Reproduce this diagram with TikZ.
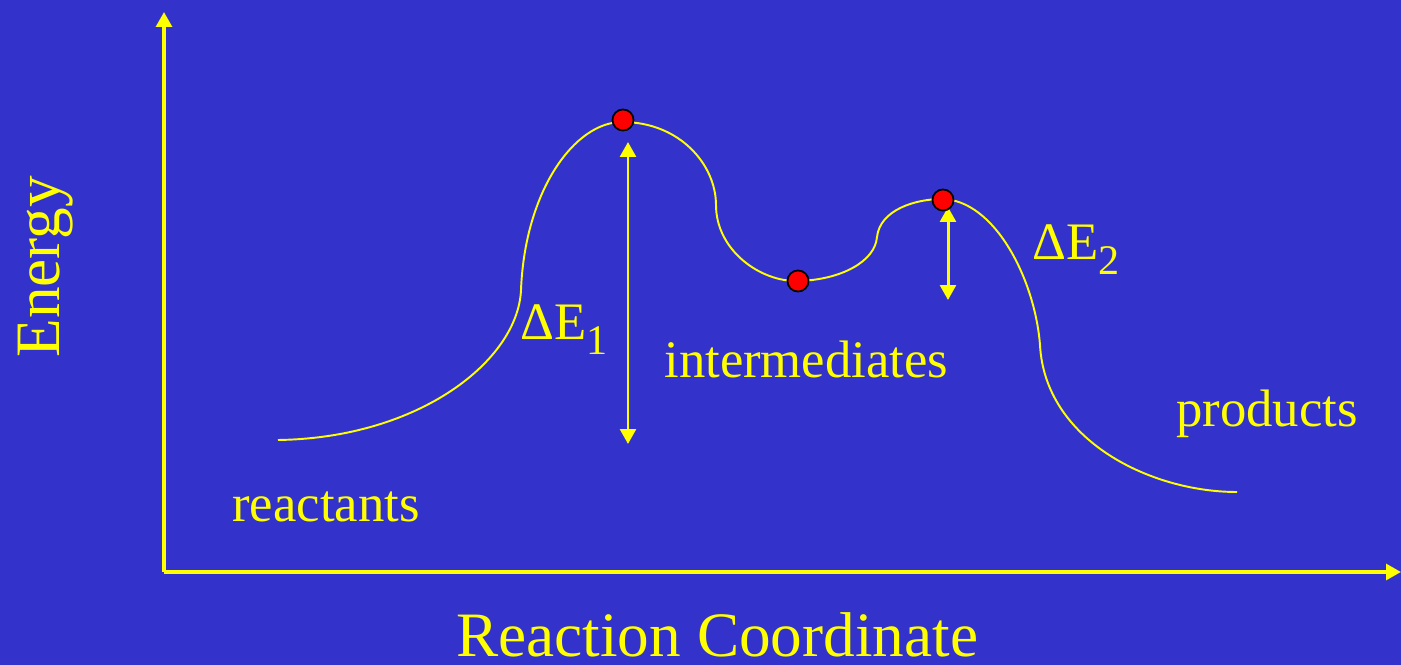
\documentclass[tikz,border=0pt]{standalone}
\usepackage{fontspec}
\setmainfont{Liberation Serif}
\usetikzlibrary{arrows.meta}
\definecolor{bg}{HTML}{3333CC}
\definecolor{yel}{HTML}{FFFF00}
\newcommand{\bigtxt}{\fontsize{36}{40}\selectfont}
\newcommand{\midtxt}{\fontsize{30}{34}\selectfont}
\newcommand{\subtxt}[1]{\raisebox{-8.5pt}{\fontsize{24}{24}\selectfont #1}}
\begin{document}
\begin{tikzpicture}[x=0.02cm,y=-0.02cm,
  axis/.style={draw=yel,line width=1.9pt,-{Triangle[length=8.5pt,width=9pt]}},
  curve/.style={draw=yel,line width=1.1pt},
  dbl/.style={draw=yel,line width=1.7pt,{Triangle[length=8.5pt,width=9pt]}-{Triangle[length=8.5pt,width=9pt]}},
  dot/.style={circle,fill=red,draw=black,line width=1pt,minimum size=12pt,inner sep=0pt},
  lbl/.style={text=yel,anchor=base west,inner sep=0pt}]
\fill[bg] (0,0) rectangle (1401,665);
\useasboundingbox (0,0) rectangle (1401,665);
% axes
\coordinate (O) at (164,572);
\coordinate (ytop) at (164,12);
\coordinate (xend) at (1401,572);
\draw[axis] (O) -- (ytop);
\draw[axis] (O) -- (xend);
% energy curve
\coordinate (c0) at (278,440);
\coordinate (c1) at (521,290);
\coordinate (c2) at (622,122);
\coordinate (c3) at (716,205);
\coordinate (c4) at (798,281);
\coordinate (c5) at (877,237);
\coordinate (c6) at (942,199);
\coordinate (c7) at (1040,345);
\coordinate (c8) at (1237,492);
\draw[curve] (c0) .. controls (420,438) and (518,360) .. (c1)
  .. controls (525,190) and (575,122) .. (c2)
  .. controls (680,122) and (716,165) .. (c3)
  .. controls (716,250) and (760,282) .. (c4)
  .. controls (840,280) and (875,262) .. (c5)
  .. controls (880,210) and (915,199) .. (c6)
  .. controls (995,200) and (1035,280) .. (c7)
  .. controls (1045,440) and (1150,492) .. (c8);
% energy arrows
\coordinate (a1t) at (628,142);
\coordinate (a1b) at (628,444);
\coordinate (a2t) at (948,207);
\coordinate (a2b) at (948,300);
\draw[dbl] (a1b) -- (a1t);
\draw[dbl] (a2b) -- (a2t);
% points
\node[dot] (ts1) at (623,120) {};
\node[dot] (im) at (798,281) {};
\node[dot] (ts2) at (943,200) {};
% labels
\node[lbl] (react) at (232,522) {\midtxt reactants};
\node[lbl] (inter) at (664,378) {\midtxt intermediates};
\node[lbl] (prod) at (1176,427) {\midtxt products};
\node[lbl] (de1) at (520,340) {\midtxt ΔE\subtxt{1}};
\node[lbl] (de2) at (1032,260) {\midtxt ΔE\subtxt{2}};
\node[lbl] (xlab) at (456,657) {\bigtxt Reaction Coordinate};
\node[lbl,rotate=90] (ylab) at (59,358) {\bigtxt Energy};
\end{tikzpicture}
\end{document}
